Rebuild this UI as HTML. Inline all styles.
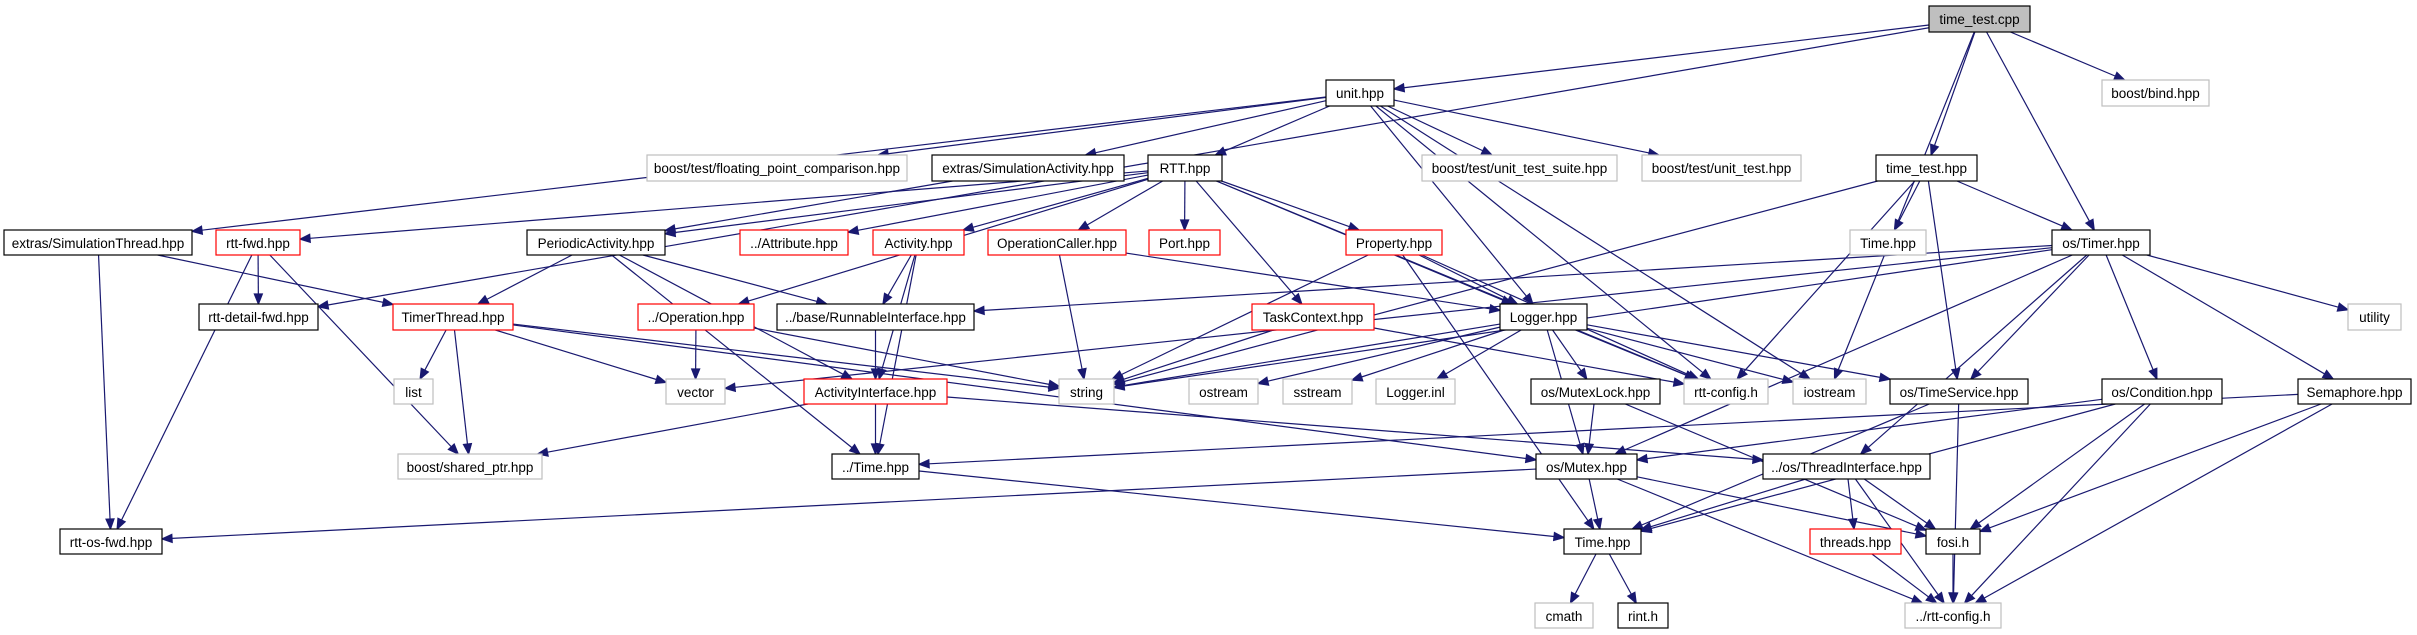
<!DOCTYPE html>
<html><head><meta charset="utf-8"><style>
html,body{margin:0;padding:0;background:#fff;}
svg{display:block;}
text{font-family:"Liberation Sans",Arial,sans-serif;font-size:13.5px;fill:#000;}
</style></head><body>
<svg id="g" width="2417" height="635" viewBox="0 0 2417 635" xmlns="http://www.w3.org/2000/svg">
<g id="edges" fill="none" stroke="#191970" stroke-width="1.2"></g>
<g id="nodes" stroke-width="1.2">
<rect x="1929" y="6" width="101" height="26" fill="#bfbfbf" stroke="#000"/><text x="1979.5" y="24" text-anchor="middle">time_test.cpp</text>
<rect x="1326" y="80" width="68" height="26" fill="#fff" stroke="#000"/><text x="1360" y="98" text-anchor="middle">unit.hpp</text>
<rect x="2102" y="80" width="107" height="26" fill="#fff" stroke="#bfbfbf"/><text x="2155.5" y="98" text-anchor="middle">boost/bind.hpp</text>
<rect x="647" y="155" width="260" height="26" fill="#fff" stroke="#bfbfbf"/><text x="777" y="173" text-anchor="middle">boost/test/floating_point_comparison.hpp</text>
<rect x="932" y="155" width="192" height="26" fill="#fff" stroke="#000"/><text x="1028" y="173" text-anchor="middle">extras/SimulationActivity.hpp</text>
<rect x="1148" y="155" width="74" height="26" fill="#fff" stroke="#000"/><text x="1185" y="173" text-anchor="middle">RTT.hpp</text>
<rect x="1422" y="155" width="195" height="26" fill="#fff" stroke="#bfbfbf"/><text x="1519.5" y="173" text-anchor="middle">boost/test/unit_test_suite.hpp</text>
<rect x="1642" y="155" width="159" height="26" fill="#fff" stroke="#bfbfbf"/><text x="1721.5" y="173" text-anchor="middle">boost/test/unit_test.hpp</text>
<rect x="1876" y="155" width="101" height="26" fill="#fff" stroke="#000"/><text x="1926.5" y="173" text-anchor="middle">time_test.hpp</text>
<rect x="4" y="230" width="188" height="25" fill="#fff" stroke="#000"/><text x="98" y="248" text-anchor="middle">extras/SimulationThread.hpp</text>
<rect x="216" y="230" width="84" height="25" fill="#fff" stroke="#f00"/><text x="258" y="248" text-anchor="middle">rtt-fwd.hpp</text>
<rect x="527" y="230" width="138" height="25" fill="#fff" stroke="#000"/><text x="596" y="248" text-anchor="middle">PeriodicActivity.hpp</text>
<rect x="740" y="230" width="108" height="25" fill="#fff" stroke="#f00"/><text x="794" y="248" text-anchor="middle">../Attribute.hpp</text>
<rect x="873" y="230" width="91" height="25" fill="#fff" stroke="#f00"/><text x="918.5" y="248" text-anchor="middle">Activity.hpp</text>
<rect x="988" y="230" width="138" height="25" fill="#fff" stroke="#f00"/><text x="1057" y="248" text-anchor="middle">OperationCaller.hpp</text>
<rect x="1149" y="230" width="71" height="25" fill="#fff" stroke="#f00"/><text x="1184.5" y="248" text-anchor="middle">Port.hpp</text>
<rect x="1346" y="230" width="96" height="25" fill="#fff" stroke="#f00"/><text x="1394" y="248" text-anchor="middle">Property.hpp</text>
<rect x="1850" y="230" width="76" height="25" fill="#fff" stroke="#bfbfbf"/><text x="1888" y="248" text-anchor="middle">Time.hpp</text>
<rect x="2052" y="230" width="98" height="25" fill="#fff" stroke="#000"/><text x="2101" y="248" text-anchor="middle">os/Timer.hpp</text>
<rect x="199" y="304" width="119" height="26" fill="#fff" stroke="#000"/><text x="258.5" y="322" text-anchor="middle">rtt-detail-fwd.hpp</text>
<rect x="393" y="304" width="120" height="26" fill="#fff" stroke="#f00"/><text x="453" y="322" text-anchor="middle">TimerThread.hpp</text>
<rect x="638" y="304" width="116" height="26" fill="#fff" stroke="#f00"/><text x="696" y="322" text-anchor="middle">../Operation.hpp</text>
<rect x="777" y="304" width="197" height="26" fill="#fff" stroke="#000"/><text x="875.5" y="322" text-anchor="middle">../base/RunnableInterface.hpp</text>
<rect x="1252" y="304" width="122" height="26" fill="#fff" stroke="#f00"/><text x="1313" y="322" text-anchor="middle">TaskContext.hpp</text>
<rect x="1500" y="304" width="87" height="26" fill="#fff" stroke="#000"/><text x="1543.5" y="322" text-anchor="middle">Logger.hpp</text>
<rect x="2348" y="304" width="53" height="26" fill="#fff" stroke="#bfbfbf"/><text x="2374.5" y="322" text-anchor="middle">utility</text>
<rect x="394" y="379" width="39" height="25" fill="#fff" stroke="#bfbfbf"/><text x="413.5" y="397" text-anchor="middle">list</text>
<rect x="666" y="379" width="59" height="25" fill="#fff" stroke="#bfbfbf"/><text x="695.5" y="397" text-anchor="middle">vector</text>
<rect x="804" y="379" width="143" height="25" fill="#fff" stroke="#f00"/><text x="875.5" y="397" text-anchor="middle">ActivityInterface.hpp</text>
<rect x="1059" y="379" width="55" height="25" fill="#fff" stroke="#bfbfbf"/><text x="1086.5" y="397" text-anchor="middle">string</text>
<rect x="1189" y="379" width="69" height="25" fill="#fff" stroke="#bfbfbf"/><text x="1223.5" y="397" text-anchor="middle">ostream</text>
<rect x="1283" y="379" width="69" height="25" fill="#fff" stroke="#bfbfbf"/><text x="1317.5" y="397" text-anchor="middle">sstream</text>
<rect x="1376" y="379" width="79" height="25" fill="#fff" stroke="#bfbfbf"/><text x="1415.5" y="397" text-anchor="middle">Logger.inl</text>
<rect x="1531" y="379" width="129" height="25" fill="#fff" stroke="#000"/><text x="1595.5" y="397" text-anchor="middle">os/MutexLock.hpp</text>
<rect x="1684" y="379" width="84" height="25" fill="#fff" stroke="#bfbfbf"/><text x="1726" y="397" text-anchor="middle">rtt-config.h</text>
<rect x="1793" y="379" width="73" height="25" fill="#fff" stroke="#bfbfbf"/><text x="1829.5" y="397" text-anchor="middle">iostream</text>
<rect x="1890" y="379" width="138" height="25" fill="#fff" stroke="#000"/><text x="1959" y="397" text-anchor="middle">os/TimeService.hpp</text>
<rect x="2102" y="379" width="120" height="25" fill="#fff" stroke="#000"/><text x="2162" y="397" text-anchor="middle">os/Condition.hpp</text>
<rect x="2298" y="379" width="113" height="25" fill="#fff" stroke="#000"/><text x="2354.5" y="397" text-anchor="middle">Semaphore.hpp</text>
<rect x="398" y="454" width="144" height="25" fill="#fff" stroke="#bfbfbf"/><text x="470" y="472" text-anchor="middle">boost/shared_ptr.hpp</text>
<rect x="832" y="454" width="87" height="25" fill="#fff" stroke="#000"/><text x="875.5" y="472" text-anchor="middle">../Time.hpp</text>
<rect x="1536" y="454" width="101" height="25" fill="#fff" stroke="#000"/><text x="1586.5" y="472" text-anchor="middle">os/Mutex.hpp</text>
<rect x="1763" y="454" width="167" height="25" fill="#fff" stroke="#000"/><text x="1846.5" y="472" text-anchor="middle">../os/ThreadInterface.hpp</text>
<rect x="60" y="529" width="102" height="25" fill="#fff" stroke="#000"/><text x="111" y="547" text-anchor="middle">rtt-os-fwd.hpp</text>
<rect x="1564" y="529" width="77" height="25" fill="#fff" stroke="#000"/><text x="1602.5" y="547" text-anchor="middle">Time.hpp</text>
<rect x="1810" y="529" width="91" height="25" fill="#fff" stroke="#f00"/><text x="1855.5" y="547" text-anchor="middle">threads.hpp</text>
<rect x="1926" y="529" width="54" height="25" fill="#fff" stroke="#000"/><text x="1953" y="547" text-anchor="middle">fosi.h</text>
<rect x="1535" y="603" width="58" height="25" fill="#fff" stroke="#bfbfbf"/><text x="1564" y="621" text-anchor="middle">cmath</text>
<rect x="1618" y="603" width="50" height="25" fill="#fff" stroke="#000"/><text x="1643" y="621" text-anchor="middle">rint.h</text>
<rect x="1905" y="603" width="96" height="25" fill="#fff" stroke="#bfbfbf"/><text x="1953" y="621" text-anchor="middle">../rtt-config.h</text>
</g>
</svg>
<script>
(function(){
var R={},rs=document.querySelectorAll('#nodes rect'),ts=document.querySelectorAll('#nodes text');
for(var i=0;i<rs.length;i++){var r=rs[i];R[ts[i].textContent+'|'+r.getAttribute('y')]={x:+r.getAttribute('x'),y:+r.getAttribute('y'),w:+r.getAttribute('width'),h:+r.getAttribute('height')};}
function N(name){for(var k in R){if(k.split('|')[0]===name)return R[k];}return null;}
function Nn(name,y){return R[name+'|'+y];}
var T='time_test.cpp',U='unit.hpp';
var E=[[T,U],[T,'rtt-detail-fwd.hpp'],[T,'time_test.hpp'],[T,'iostream'],[T,'os/Timer.hpp'],[T,'boost/bind.hpp'],
[U,'extras/SimulationThread.hpp'],[U,'boost/test/floating_point_comparison.hpp'],[U,'extras/SimulationActivity.hpp'],[U,'RTT.hpp'],[U,'boost/test/unit_test_suite.hpp'],[U,'boost/test/unit_test.hpp'],[U,'Logger.hpp'],[U,'rtt-config.h'],[U,'iostream'],
['extras/SimulationActivity.hpp','PeriodicActivity.hpp'],
['RTT.hpp','rtt-fwd.hpp'],['RTT.hpp','PeriodicActivity.hpp'],['RTT.hpp','../Attribute.hpp'],['RTT.hpp','Activity.hpp'],['RTT.hpp','OperationCaller.hpp'],['RTT.hpp','Port.hpp'],['RTT.hpp','Property.hpp'],['RTT.hpp','TaskContext.hpp'],['RTT.hpp','../Operation.hpp'],['RTT.hpp','rtt-config.h'],['RTT.hpp','Logger.hpp'],
['extras/SimulationThread.hpp','TimerThread.hpp'],['extras/SimulationThread.hpp','rtt-os-fwd.hpp'],
['rtt-fwd.hpp','rtt-detail-fwd.hpp'],['rtt-fwd.hpp','rtt-os-fwd.hpp'],['rtt-fwd.hpp','boost/shared_ptr.hpp'],
['PeriodicActivity.hpp','TimerThread.hpp'],['PeriodicActivity.hpp','../base/RunnableInterface.hpp'],['PeriodicActivity.hpp','ActivityInterface.hpp'],['PeriodicActivity.hpp','../Time.hpp'],
['Activity.hpp','../base/RunnableInterface.hpp'],['Activity.hpp','ActivityInterface.hpp'],['Activity.hpp','../Time.hpp'],
['OperationCaller.hpp','string'],['OperationCaller.hpp','Logger.hpp'],
['Property.hpp','string'],['Property.hpp','Logger.hpp'],['Property.hpp','rtt-config.h'],['Property.hpp','Time.hpp',529],
['TaskContext.hpp','string'],['TaskContext.hpp','rtt-config.h'],
['time_test.hpp','string'],['time_test.hpp','Time.hpp',230],['time_test.hpp','os/Timer.hpp'],['time_test.hpp','os/TimeService.hpp'],['time_test.hpp','rtt-config.h'],
['os/Timer.hpp','../base/RunnableInterface.hpp'],['os/Timer.hpp','vector'],['os/Timer.hpp','utility'],['os/Timer.hpp','Semaphore.hpp'],['os/Timer.hpp','os/Condition.hpp'],['os/Timer.hpp','os/TimeService.hpp'],['os/Timer.hpp','os/Mutex.hpp'],['os/Timer.hpp','../os/ThreadInterface.hpp'],['os/Timer.hpp','string'],
['TimerThread.hpp','list'],['TimerThread.hpp','vector'],['TimerThread.hpp','boost/shared_ptr.hpp'],['TimerThread.hpp','string'],['TimerThread.hpp','os/Mutex.hpp'],
['../Operation.hpp','vector'],['../Operation.hpp','string'],
['../base/RunnableInterface.hpp','ActivityInterface.hpp'],
['ActivityInterface.hpp','../Time.hpp'],['ActivityInterface.hpp','boost/shared_ptr.hpp'],['ActivityInterface.hpp','../os/ThreadInterface.hpp'],
['Logger.hpp','string'],['Logger.hpp','ostream'],['Logger.hpp','sstream'],['Logger.hpp','Logger.inl'],['Logger.hpp','os/MutexLock.hpp'],['Logger.hpp','os/Mutex.hpp'],['Logger.hpp','rtt-config.h'],['Logger.hpp','iostream'],['Logger.hpp','os/TimeService.hpp'],
['os/MutexLock.hpp','os/Mutex.hpp'],['os/MutexLock.hpp','fosi.h'],
['os/TimeService.hpp','Time.hpp',529],['os/TimeService.hpp','../rtt-config.h'],
['os/Condition.hpp','os/Mutex.hpp'],['os/Condition.hpp','Time.hpp',529],['os/Condition.hpp','fosi.h'],['os/Condition.hpp','../rtt-config.h'],
['Semaphore.hpp','../Time.hpp'],['Semaphore.hpp','fosi.h'],['Semaphore.hpp','../rtt-config.h'],
['os/Mutex.hpp','rtt-os-fwd.hpp'],['os/Mutex.hpp','Time.hpp',529],['os/Mutex.hpp','fosi.h'],['os/Mutex.hpp','../rtt-config.h'],
['../Time.hpp','Time.hpp',529],
['../os/ThreadInterface.hpp','Time.hpp',529],['../os/ThreadInterface.hpp','threads.hpp'],['../os/ThreadInterface.hpp','fosi.h'],['../os/ThreadInterface.hpp','../rtt-config.h'],
['Time.hpp','cmath',529],['Time.hpp','rint.h',529],
['threads.hpp','../rtt-config.h'],['fosi.h','../rtt-config.h']];
function clip(b,cx,cy,dx,dy){var hw=b.w/2,hh=b.h/2,t=1e9;if(dx)t=Math.min(t,hw/Math.abs(dx));if(dy)t=Math.min(t,hh/Math.abs(dy));return [cx+dx*t,cy+dy*t];}
var g=document.getElementById('edges'),ns='http://www.w3.org/2000/svg',out='';
E.forEach(function(e){
 var a=(e[0]==='Time.hpp')?Nn('Time.hpp',e[2]):N(e[0]);
 var b=(e[1]==='Time.hpp')?Nn('Time.hpp',e[2]):N(e[1]);
 if(!a||!b)return;
 var ax=a.x+a.w/2,ay=a.y+a.h/2,bx=b.x+b.w/2,by=b.y+b.h/2,dx=bx-ax,dy=by-ay;
 var p=clip(a,ax,ay,dx,dy),q=clip(b,bx,by,-dx,-dy);
 var L=Math.hypot(q[0]-p[0],q[1]-p[1]),ux=(q[0]-p[0])/L,uy=(q[1]-p[1])/L;
 var ex=q[0]-ux*10,ey=q[1]-uy*10;
 out+='<line x1="'+p[0]+'" y1="'+p[1]+'" x2="'+ex+'" y2="'+ey+'"/>';
 out+='<polygon fill="#191970" points="'+q[0]+','+q[1]+' '+(ex-uy*4)+','+(ey+ux*4)+' '+(ex+uy*4)+','+(ey-ux*4)+'"/>';
});
g.innerHTML=out;
})();
</script>
</body></html>
